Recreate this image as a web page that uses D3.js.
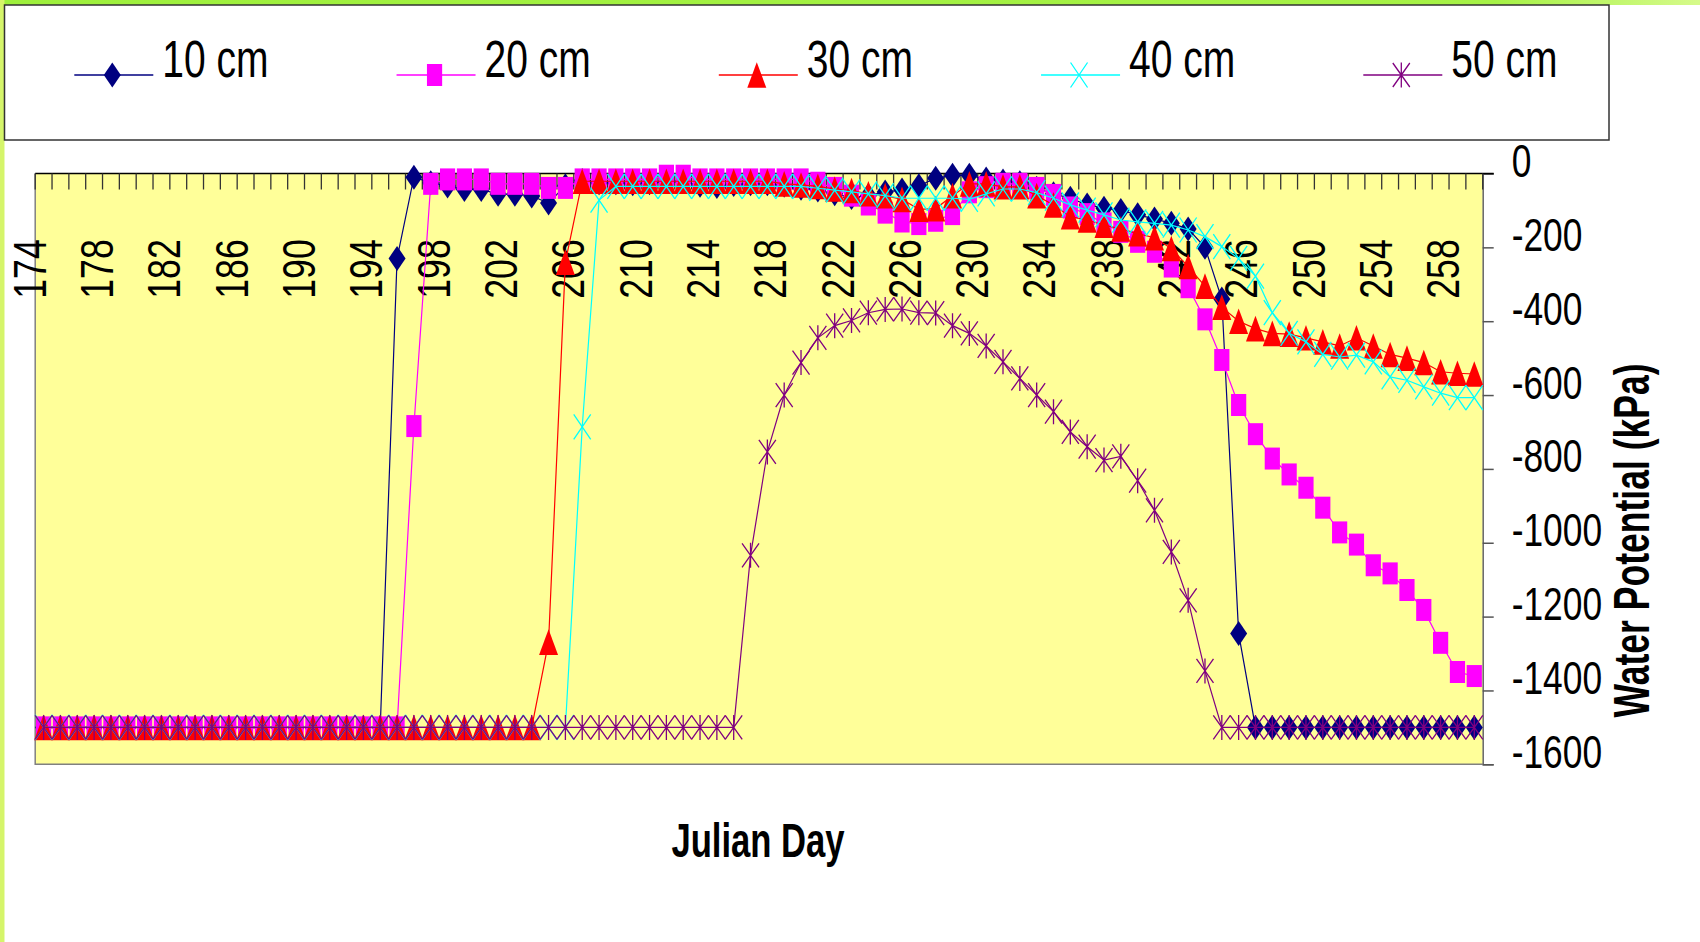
<!DOCTYPE html>
<html lang="en">
<head>
    <meta charset="UTF-8">
    <script src="https://d3js.org/d3.v7.min.js"></script>
    <title>Water Potential</title>
    <style>
        body { margin: 0; background: #fff; }
        text { font-family: "Liberation Sans", Arial, sans-serif; }
    </style>
</head>
<body>
    <script>
        // categories (Julian day) and tick labels
        const days = d3.range(174, 260);
        const xTickDays = [174, 178, 182, 186, 190, 194, 198, 202, 206, 210, 214, 218, 222, 226, 230, 234, 238, 242, 246, 250, 254, 258];
        const yTicks = [0, -200, -400, -600, -800, -1000, -1200, -1400, -1600];

        const seriesNames = ["10 cm", "20 cm", "30 cm", "40 cm", "50 cm"];
        const seriesColors = ["#000080", "#ff00ff", "#ff0000", "#00ffff", "#800080"];

        // water potential (kPa), one value per day 174..259
        const wp10 = [
            -1500, -1500, -1500, -1500, -1500, -1500, -1500, -1500, -1500, -1500,
            -1500, -1500, -1500, -1500, -1500, -1500, -1500, -1500, -1500, -1500,
            -1500, -230, -10, -25, -34, -43, -43, -56, -56, -61,
            -80, -33, -19, -25, -25, -28, -25, -22, -22, -32,
            -35, -30, -28, -28, -32, -40, -45, -55, -65, -60,
            -50, -45, -33, -13, -5, -5, -15, -20, -25, -40,
            -55, -67, -85, -94, -100, -112, -123, -135, -150, -200,
            -340, -1246, -1500, -1500, -1500, -1500, -1500, -1500, -1500, -1500,
            -1500, -1500, -1500, -1500, -1500, -1500
        ];
        const wp20 = [
            -1500, -1500, -1500, -1500, -1500, -1500, -1500, -1500, -1500, -1500,
            -1500, -1500, -1500, -1500, -1500, -1500, -1500, -1500, -1500, -1500,
            -1500, -1500, -684, -28, -16, -16, -16, -28, -28, -28,
            -39, -39, -16, -16, -16, -16, -16, -6, -6, -16,
            -16, -16, -16, -16, -16, -16, -25, -39, -60, -84,
            -106, -130, -137, -128, -110, -51, -37, -28, -28, -39,
            -58, -92, -110, -135, -158, -185, -212, -252, -308, -395,
            -505, -627, -706, -772, -815, -851, -905, -972, -1005, -1061,
            -1083, -1128, -1182, -1271, -1350, -1361
        ];
        const wp30 = [
            -1500, -1500, -1500, -1500, -1500, -1500, -1500, -1500, -1500, -1500,
            -1500, -1500, -1500, -1500, -1500, -1500, -1500, -1500, -1500, -1500,
            -1500, -1500, -1500, -1500, -1500, -1500, -1500, -1500, -1500, -1500,
            -1269, -240, -21, -21, -21, -21, -21, -21, -21, -21,
            -21, -21, -21, -21, -28, -31, -35, -42, -46, -55,
            -60, -70, -97, -95, -60, -28, -28, -36, -36, -60,
            -85, -117, -126, -140, -150, -163, -174, -203, -252, -305,
            -362, -400, -420, -433, -435, -445, -456, -467, -445, -467,
            -490, -500, -512, -537, -541, -543
        ];
        const wp40 = [
            -1500, -1500, -1500, -1500, -1500, -1500, -1500, -1500, -1500, -1500,
            -1500, -1500, -1500, -1500, -1500, -1500, -1500, -1500, -1500, -1500,
            -1500, -1500, -1500, -1500, -1500, -1500, -1500, -1500, -1500, -1500,
            -1500, -1500, -686, -72, -35, -35, -35, -35, -35, -35,
            -35, -35, -35, -35, -35, -35, -40, -45, -50, -55,
            -60, -67, -67, -67, -67, -70, -55, -42, -42, -52,
            -67, -85, -99, -112, -126, -131, -135, -140, -153, -171,
            -198, -230, -278, -377, -433, -456, -490, -497, -492, -510,
            -551, -560, -578, -595, -607, -607
        ];
        const wp50 = [
            -1500, -1500, -1500, -1500, -1500, -1500, -1500, -1500, -1500, -1500,
            -1500, -1500, -1500, -1500, -1500, -1500, -1500, -1500, -1500, -1500,
            -1500, -1500, -1500, -1500, -1500, -1500, -1500, -1500, -1500, -1500,
            -1500, -1500, -1500, -1500, -1500, -1500, -1500, -1500, -1500, -1500,
            -1500, -1500, -1034, -754, -600, -512, -445, -412, -398, -377,
            -368, -367, -377, -378, -412, -433, -467, -510, -555, -600,
            -645, -700, -740, -776, -766, -832, -912, -1025, -1156, -1347,
            -1500, -1500, -1500, -1500, -1500, -1500, -1500, -1500, -1500, -1500,
            -1500, -1500, -1500, -1500, -1500, -1500
        ];
        const seriesValues = [wp10, wp20, wp30, wp40, wp50];

        const width = 1700;
        const height = 942;
        const plot = { left: 35.2, right: 1482.7, top: 173.5, bottom: 764.3 };

        const x = d3.scaleBand().domain(days).range([plot.left, plot.right]).padding(0);
        const y = d3.scaleLinear().domain([-1600, 0]).range([plot.bottom, plot.top]);
        const bw = x.bandwidth();
        const cx = d => x(d) + bw / 2;

        // marker shapes (Excel markers are taller than wide here)
        const diamond = { draw(c) { c.moveTo(0, -12.5); c.lineTo(8.5, 0); c.lineTo(0, 12.5); c.lineTo(-8.5, 0); c.closePath(); } };
        const square = { draw(c) { c.moveTo(-7.6, -11); c.lineTo(7.6, -11); c.lineTo(7.6, 11); c.lineTo(-7.6, 11); c.closePath(); } };
        const triangle = { draw(c) { c.moveTo(0, -12.8); c.lineTo(9.5, 12.8); c.lineTo(-9.5, 12.8); c.closePath(); } };
        const cross = { draw(c) { c.moveTo(-8.5, -12.5); c.lineTo(8.5, 12.5); c.moveTo(8.5, -12.5); c.lineTo(-8.5, 12.5); } };
        const star = { draw(c) { c.moveTo(-8.5, -12); c.lineTo(8.5, 12); c.moveTo(8.5, -12); c.lineTo(-8.5, 12); c.moveTo(0, -12.5); c.lineTo(0, 12.5); } };
        const markerTypes = [diamond, square, triangle, cross, star];
        const markerFilled = [true, true, true, false, false];

        const svg = d3.select("body").append("svg")
            .attr("width", width)
            .attr("height", height);

        // slide decoration: green bars on top and left
        const grad = svg.append("defs").append("linearGradient").attr("id", "topband");
        grad.append("stop").attr("offset", "0%").attr("stop-color", "#9ef03c");
        grad.append("stop").attr("offset", "88%").attr("stop-color", "#a6f246");
        grad.append("stop").attr("offset", "100%").attr("stop-color", "#d6fa8a");
        svg.append("rect").attr("x", 0).attr("y", 0).attr("width", width).attr("height", 5).attr("fill", "url(#topband)");
        svg.append("rect").attr("x", 0).attr("y", 0).attr("width", 4.5).attr("height", height).attr("fill", "#d5f56a");

        // plot area
        svg.append("rect")
            .attr("x", plot.left).attr("y", plot.top)
            .attr("width", plot.right - plot.left).attr("height", plot.bottom - plot.top)
            .attr("fill", "#ffff99");
        svg.append("path")
            .attr("d", `M${plot.left},${plot.top}V${plot.bottom}H${plot.right}`)
            .attr("fill", "none").attr("stroke", "#808080").attr("stroke-width", 1.5);

        // y axis on the right (plain hyphen for negatives, as in the original)
        const yAxis = svg.append("g")
            .attr("transform", `translate(${plot.right},0)`)
            .call(d3.axisRight(y).tickValues(yTicks).tickSize(11).tickFormat(d => String(d)));
        yAxis.select(".domain").attr("stroke", "#666").attr("stroke-width", 1.5);
        yAxis.selectAll(".tick line").attr("stroke", "#555").attr("stroke-width", 1.5);
        yAxis.selectAll(".tick text")
            .attr("x", null).attr("dy", null)
            .attr("transform", "translate(29,3) scale(0.76,1)")
            .attr("text-anchor", "start")
            .attr("fill", "#000")
            .style("font-size", "46.5px");

        // x axis on top (crosses at 0)
        svg.append("line")
            .attr("x1", plot.left).attr("x2", plot.right + 11)
            .attr("y1", y(0)).attr("y2", y(0))
            .attr("stroke", "#000").attr("stroke-width", 1.5);
        const bounds = days.map(d => x(d)).concat([plot.right]);
        svg.append("g").selectAll("line")
            .data(bounds)
            .join("line")
            .attr("x1", d => d).attr("x2", d => d)
            .attr("y1", y(0)).attr("y2", y(0) + 16)
            .attr("stroke", "#333").attr("stroke-width", 1.3);

        svg.append("g").selectAll("text")
            .data(xTickDays)
            .join("text")
            .attr("transform", d => `translate(${cx(d) + 2},269) rotate(-90) scale(0.76,1)`)
            .attr("text-anchor", "middle")
            .style("font-size", "47px")
            .text(d => d);

        // series: line then markers, in legend order
        const line = d3.line().x(d => cx(d.day)).y(d => y(d.v));
        seriesValues.forEach((vals, i) => {
            const pts = days.map((d, k) => ({ day: d, v: vals[k] }));
            const g = svg.append("g");
            g.append("path")
                .datum(pts)
                .attr("d", line)
                .attr("fill", "none")
                .attr("stroke", seriesColors[i])
                .attr("stroke-width", 1.2);
            const sym = d3.symbol().type(markerTypes[i]);
            g.selectAll("path.mk")
                .data(pts)
                .join("path")
                .attr("class", "mk")
                .attr("d", sym)
                .attr("transform", d => `translate(${cx(d.day)},${y(d.v)})`)
                .attr("fill", markerFilled[i] ? seriesColors[i] : "none")
                .attr("stroke", markerFilled[i] ? "none" : seriesColors[i])
                .attr("stroke-width", 1.3);
        });

        // legend
        svg.append("rect")
            .attr("x", 4.5).attr("y", 5).attr("width", 1604.5).attr("height", 135)
            .attr("fill", "#fff").attr("stroke", "#333").attr("stroke-width", 1.5);
        const legend = svg.append("g").selectAll("g")
            .data(seriesNames)
            .join("g")
            .attr("transform", (d, i) => `translate(${74.3 + i * 322.25},75)`);
        legend.append("line")
            .attr("x1", 0).attr("x2", 79).attr("y1", 0).attr("y2", 0)
            .attr("stroke", (d, i) => seriesColors[i]).attr("stroke-width", 1.4);
        legend.append("path")
            .attr("d", (d, i) => d3.symbol().type(markerTypes[i])())
            .attr("transform", "translate(38,0)")
            .attr("fill", (d, i) => markerFilled[i] ? seriesColors[i] : "none")
            .attr("stroke", (d, i) => markerFilled[i] ? "none" : seriesColors[i])
            .attr("stroke-width", 1.3);
        legend.append("text")
            .attr("transform", "translate(88,2.3) scale(0.75,1)")
            .style("font-size", "52px")
            .text(d => d);

        // axis titles
        svg.append("text")
            .attr("transform", "translate(758,856.7) scale(0.707,1)")
            .attr("text-anchor", "middle")
            .style("font-size", "49px").style("font-weight", "bold")
            .text("Julian Day");
        svg.append("text")
            .attr("transform", "translate(1649,540.5) rotate(-90) scale(0.70,1)")
            .attr("text-anchor", "middle")
            .style("font-size", "50.8px").style("font-weight", "bold")
            .text("Water Potential (kPa)");
    </script>
</body>
</html>
